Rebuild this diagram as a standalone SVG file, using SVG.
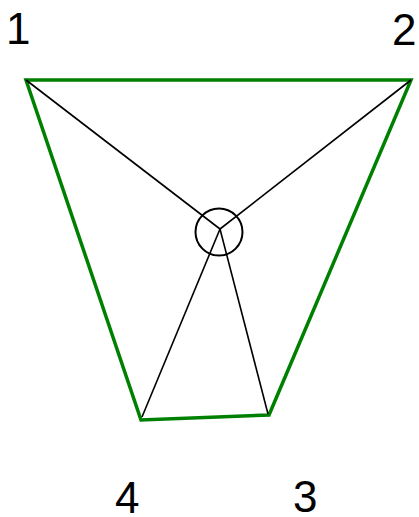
<svg xmlns="http://www.w3.org/2000/svg" width="419" height="517" viewBox="0 0 419 517">
<style>
.edge{stroke:#008000;stroke-width:3.5;fill:none;stroke-linejoin:miter}
.spoke{stroke:#000;stroke-width:1.6;fill:none}
.lbl{font-family:"Liberation Sans",Arial,sans-serif;font-size:44px;fill:#000}
</style>
<rect width="419" height="517" fill="#fff"/>
<g id="connectors">
<polygon class="edge" points="26,80 411,80 269,415 141,420"/>
<line class="spoke" x1="26" y1="80" x2="220" y2="229"/>
<line class="spoke" x1="411" y1="80" x2="220" y2="229"/>
<line class="spoke" x1="142" y1="417" x2="220" y2="229"/>
<line class="spoke" x1="268" y1="414" x2="220" y2="229"/>
</g>
<g id="center"><circle cx="219" cy="232" r="23.5" fill="none" stroke="#000" stroke-width="2"/></g>
<g id="n1"><text class="lbl" x="6" y="44">1</text></g>
<g id="n2"><text class="lbl" x="392" y="45">2</text></g>
<g id="n3"><text class="lbl" x="293" y="512">3</text></g>
<g id="n4"><text class="lbl" x="115" y="513">4</text></g>
</svg>
